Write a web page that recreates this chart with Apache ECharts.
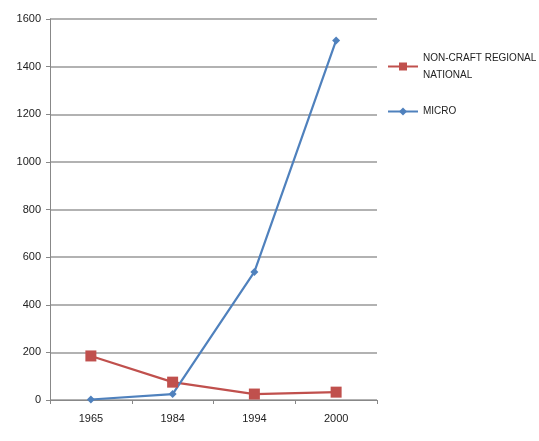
<!DOCTYPE html>
<html>
<head>
<meta charset="utf-8">
<script src="https://cdn.jsdelivr.net/npm/echarts@6/dist/echarts.min.js"></script>
<style>
  html, body { margin: 0; padding: 0; background: #fff; }
  #chart { width: 539px; height: 441px; }
</style>
</head>
<body>
<div id="chart"></div>
<script>
// Years on the category axis
const years = ['1965', '1984', '1994', '2000'];
// Series values
const nonCraft = [185, 75, 25, 33];
const micro = [2, 25, 538, 1510];
// Series names
const nameNonCraft = 'NON-CRAFT REGIONAL NATIONAL';
const nameMicro = 'MICRO';

const chart = echarts.init(document.getElementById('chart'));
const font = 'Liberation Sans, Arial, sans-serif';
const red = '#C0504D';
const blue = '#4F81BD';

const legendText = { fontFamily: font, fontSize: 10, color: '#222', lineHeight: 17 };

chart.setOption({
  animation: false,
  backgroundColor: '#ffffff',
  grid: { left: 50, right: 162, top: 19, bottom: 41 },
  legend: [
    {
      left: 387,
      top: 41,
      padding: 0,
      itemWidth: 30,
      itemHeight: 10,
      itemGap: 3,
      data: [nameNonCraft],
      formatter: function () { return 'NON-CRAFT REGIONAL\nNATIONAL'; },
      textStyle: Object.assign({ padding: [17, 0, 0, 0] }, legendText)
    },
    {
      left: 387,
      top: 103,
      padding: 0,
      itemWidth: 30,
      itemHeight: 10,
      itemGap: 3,
      data: [nameMicro],
      textStyle: legendText
    }
  ],
  xAxis: {
    type: 'category',
    data: years,
    boundaryGap: true,
    axisLine: { lineStyle: { color: '#888', width: 1 } },
    axisTick: { show: true, length: 4, lineStyle: { color: '#888' } },
    axisLabel: { fontFamily: font, fontSize: 11, color: '#222', margin: 13 }
  },
  yAxis: {
    type: 'value',
    min: 0,
    max: 1600,
    interval: 200,
    axisLine: { show: true, lineStyle: { color: '#888', width: 1 } },
    axisTick: { show: true, length: 4, lineStyle: { color: '#888' } },
    axisLabel: {
      fontFamily: font, fontSize: 11, color: '#222', margin: 9,
      formatter: function (v) { return String(v); }
    },
    splitLine: { lineStyle: { color: '#999', width: 1.5 } }
  },
  series: [
    {
      name: nameNonCraft,
      type: 'line',
      data: nonCraft,
      symbol: 'rect',
      symbolSize: 11,
      itemStyle: { color: red },
      lineStyle: { color: red, width: 2.2 }
    },
    {
      name: nameMicro,
      type: 'line',
      data: micro,
      symbol: 'diamond',
      symbolSize: 8,
      itemStyle: { color: blue },
      lineStyle: { color: blue, width: 2.2 }
    }
  ]
});
</script>
</body>
</html>
